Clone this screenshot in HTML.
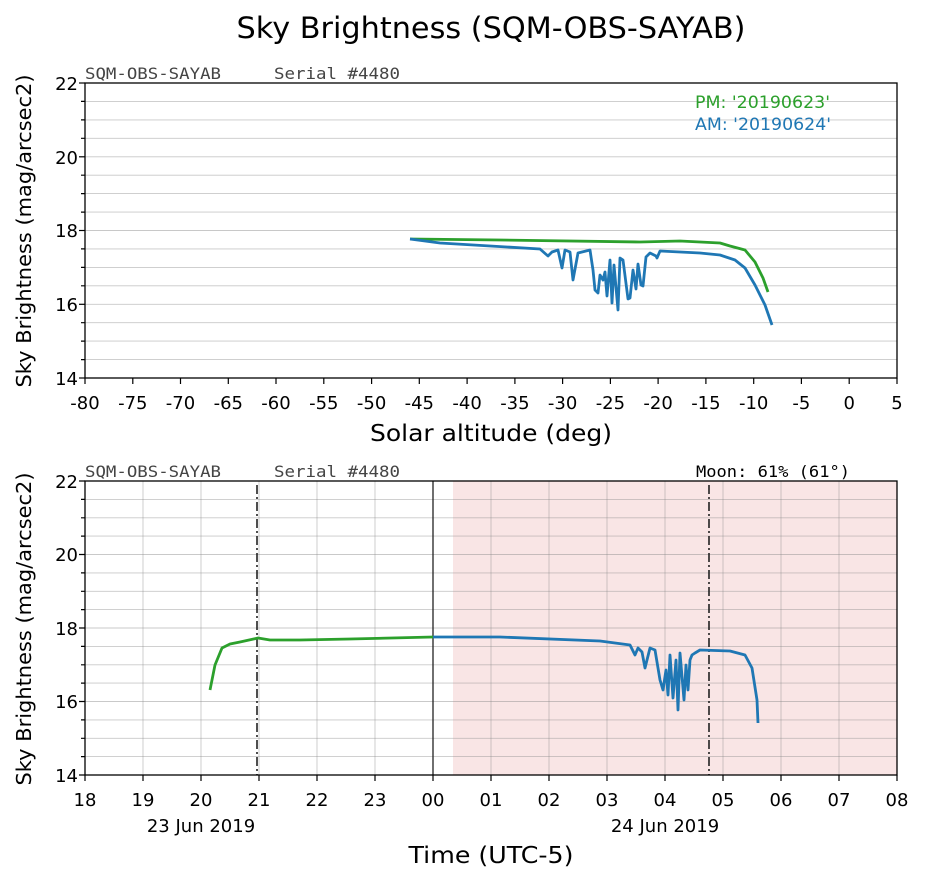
<!DOCTYPE html><html><head><style>body{margin:0;background:#fff}svg{font-family:"DejaVu Sans","Liberation Sans",sans-serif}</style></head><body>
<svg width="926" height="882" xmlns="http://www.w3.org/2000/svg">
<rect width="926" height="882" fill="#fff"/>
<text x="491" y="38" font-size="29" text-anchor="middle" textLength="509" lengthAdjust="spacingAndGlyphs">Sky Brightness (SQM-OBS-SAYAB)</text>
<!-- TOP -->
<g stroke="#c8c8c8" stroke-width="0.9">
<line x1="85" x2="897" y1="101.4" y2="101.4"/><line x1="85" x2="897" y1="119.9" y2="119.9"/><line x1="85" x2="897" y1="138.3" y2="138.3"/><line x1="85" x2="897" y1="156.8" y2="156.8"/><line x1="85" x2="897" y1="175.2" y2="175.2"/><line x1="85" x2="897" y1="193.6" y2="193.6"/><line x1="85" x2="897" y1="212.1" y2="212.1"/><line x1="85" x2="897" y1="230.5" y2="230.5"/><line x1="85" x2="897" y1="248.9" y2="248.9"/><line x1="85" x2="897" y1="267.4" y2="267.4"/><line x1="85" x2="897" y1="285.8" y2="285.8"/><line x1="85" x2="897" y1="304.3" y2="304.3"/><line x1="85" x2="897" y1="322.7" y2="322.7"/><line x1="85" x2="897" y1="341.1" y2="341.1"/><line x1="85" x2="897" y1="359.6" y2="359.6"/>
</g>
<polyline fill="none" stroke="#2ca02c" stroke-width="2.8" stroke-linejoin="round" points="410,239 500,240 640,242 680,241 720,243 730,246 745,250 755,262 763,278 768,292"/>
<polyline fill="none" stroke="#1f77b4" stroke-width="2.8" stroke-linejoin="round" points="410,239 440,243 540,249 548,256 552,252 558,250 562,268 565,250 570,252 573,280 578,253 590,250 593,270 595,290 598,293 600,275 603,280 605,272 607,296 610,260 612,303 614,265 618,310 620,258 623,260 628,299 630,298 633,270 636,289 638,264 641,285 643,286 646,257 650,253 656,256 657,258 660,251 700,253 720,255 735,260 745,268 755,285 765,305 772,325"/>
<rect x="85" y="83" width="812" height="295" fill="none" stroke="#000" stroke-width="1.3"/>
<g stroke="#000" stroke-width="1.2">
<line x1="79" x2="85" y1="83" y2="83"/><line x1="79" x2="85" y1="156.8" y2="156.8"/><line x1="79" x2="85" y1="230.5" y2="230.5"/><line x1="79" x2="85" y1="304.3" y2="304.3"/><line x1="79" x2="85" y1="378" y2="378"/>
<path d="M81 101.4h4M81 119.9h4M81 138.3h4M81 175.2h4M81 193.6h4M81 212.1h4M81 248.9h4M81 267.4h4M81 285.8h4M81 322.7h4M81 341.1h4M81 359.6h4"/>
</g>
<g font-size="18" text-anchor="end"><text x="78" y="90">22</text><text x="78" y="164">20</text><text x="78" y="237">18</text><text x="78" y="311">16</text><text x="78" y="385">14</text></g>
<g font-size="18" text-anchor="middle">
<text x="85" y="409">-80</text><text x="132.8" y="409">-75</text><text x="180.5" y="409">-70</text><text x="228.3" y="409">-65</text><text x="276" y="409">-60</text><text x="323.8" y="409">-55</text><text x="371.6" y="409">-50</text><text x="419.3" y="409">-45</text><text x="467.1" y="409">-40</text><text x="514.9" y="409">-35</text><text x="562.6" y="409">-30</text><text x="610.4" y="409">-25</text><text x="658.1" y="409">-20</text><text x="705.9" y="409">-15</text><text x="753.7" y="409">-10</text><text x="801.4" y="409">-5</text><text x="849.2" y="409">0</text><text x="897" y="409">5</text>
</g>
<g stroke="#000" stroke-width="1.2"><path d="M85 378v6M132.8 378v6M180.5 378v6M228.3 378v6M276 378v6M323.8 378v6M371.6 378v6M419.3 378v6M467.1 378v6M514.9 378v6M562.6 378v6M610.4 378v6M658.1 378v6M705.9 378v6M753.7 378v6M801.4 378v6M849.2 378v6M897 378v6"/></g>
<text x="491" y="441" font-size="23" text-anchor="middle" textLength="242" lengthAdjust="spacingAndGlyphs">Solar altitude (deg)</text>
<text transform="translate(31,231) rotate(-90)" font-size="20" text-anchor="middle" textLength="313" lengthAdjust="spacingAndGlyphs">Sky Brightness (mag/arcsec2)</text>
<g font-family="DejaVu Sans Mono,Liberation Mono,monospace" font-size="16" fill="#444"><text x="85" y="79" textLength="136" lengthAdjust="spacingAndGlyphs">SQM-OBS-SAYAB</text><text x="274" y="79" textLength="126" lengthAdjust="spacingAndGlyphs">Serial #4480</text></g>
<text x="695" y="108" font-size="17" fill="#2ca02c" textLength="135" lengthAdjust="spacingAndGlyphs">PM: '20190623'</text>
<text x="695" y="130" font-size="17" fill="#1f77b4" textLength="136" lengthAdjust="spacingAndGlyphs">AM: '20190624'</text>
<!-- BOTTOM -->
<rect x="453" y="481" width="444" height="294" fill="#f9e5e5"/>
<g stroke="#888" stroke-opacity="0.45" stroke-width="0.9">
<path d="M143 481v294M201 481v294M259 481v294M317 481v294M375 481v294M433 481v294M491 481v294M549 481v294M607 481v294M665 481v294M723 481v294M781 481v294M839 481v294"/>
<path d="M85 499.4h812M85 517.8h812M85 536.1h812M85 554.5h812M85 572.9h812M85 591.3h812M85 609.6h812M85 628h812M85 646.4h812M85 664.8h812M85 683.1h812M85 701.5h812M85 719.9h812M85 738.3h812M85 756.6h812"/>
</g>
<line x1="433" x2="433" y1="481" y2="775" stroke="#222" stroke-width="1.3"/>
<line x1="257" x2="257" y1="485" y2="775" stroke="#222" stroke-width="1.6" stroke-dasharray="9,3,2,3"/>
<line x1="709" x2="709" y1="485" y2="775" stroke="#222" stroke-width="1.6" stroke-dasharray="9,3,2,3"/>
<polyline fill="none" stroke="#2ca02c" stroke-width="2.8" stroke-linejoin="round" points="210,690 215,665 222,648 230,644 240,642 258,638 270,640 300,640 350,639 433,637"/>
<polyline fill="none" stroke="#1f77b4" stroke-width="2.8" stroke-linejoin="round" points="433,637 500,637 600,641 630,645 635,655 638,648 642,652 645,668 650,648 655,650 660,680 663,690 666,670 668,695 670,655 673,698 676,660 678,710 680,653 684,700 686,665 688,690 690,660 692,655 695,653 700,650 730,651 745,655 752,668 757,700 758,723"/>
<rect x="85" y="481" width="812" height="294" fill="none" stroke="#000" stroke-width="1.3"/>
<g stroke="#000" stroke-width="1.2"><path d="M79 481h6M79 554.5h6M79 628h6M79 701.5h6M79 775h6M81 499.4h4M81 517.8h4M81 536.1h4M81 572.9h4M81 591.3h4M81 609.6h4M81 646.4h4M81 664.8h4M81 683.1h4M81 719.9h4M81 738.3h4M81 756.6h4"/>
<path d="M85 775v6M143 775v6M201 775v6M259 775v6M317 775v6M375 775v6M433 775v6M491 775v6M549 775v6M607 775v6M665 775v6M723 775v6M781 775v6M839 775v6M897 775v6"/></g>
<g font-size="18" text-anchor="end"><text x="78" y="488">22</text><text x="78" y="561">20</text><text x="78" y="635">18</text><text x="78" y="708">16</text><text x="78" y="782">14</text></g>
<g font-size="18" text-anchor="middle">
<text x="85" y="806">18</text><text x="143" y="806">19</text><text x="201" y="806">20</text><text x="259" y="806">21</text><text x="317" y="806">22</text><text x="375" y="806">23</text><text x="433" y="806">00</text><text x="491" y="806">01</text><text x="549" y="806">02</text><text x="607" y="806">03</text><text x="665" y="806">04</text><text x="723" y="806">05</text><text x="781" y="806">06</text><text x="839" y="806">07</text><text x="897" y="806">08</text>
<text x="201" y="832">23 Jun 2019</text><text x="665" y="832">24 Jun 2019</text></g>
<text x="491" y="863" font-size="23" text-anchor="middle" textLength="165" lengthAdjust="spacingAndGlyphs">Time (UTC-5)</text>
<text transform="translate(31,629) rotate(-90)" font-size="20" text-anchor="middle" textLength="313" lengthAdjust="spacingAndGlyphs">Sky Brightness (mag/arcsec2)</text>
<g font-family="DejaVu Sans Mono,Liberation Mono,monospace" font-size="16"><text x="85" y="477" fill="#444" textLength="136" lengthAdjust="spacingAndGlyphs">SQM-OBS-SAYAB</text><text x="274" y="477" fill="#444" textLength="126" lengthAdjust="spacingAndGlyphs">Serial #4480</text><text x="696" y="477" fill="#000" textLength="154" lengthAdjust="spacingAndGlyphs">Moon: 61% (61°)</text></g>
</svg>
</body></html>
